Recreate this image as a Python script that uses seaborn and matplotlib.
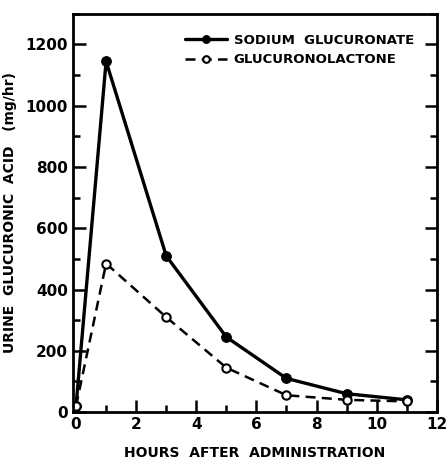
import matplotlib
matplotlib.use("Agg")
import matplotlib.pyplot as plt
from matplotlib.ticker import MultipleLocator
import seaborn as sns
import pandas as pd

hours = [0, 1, 3, 5, 7, 9, 11]
sodium = [20, 1145, 510, 245, 110, 60, 40]
lactone = [20, 485, 310, 145, 55, 40, 35]

sns.set_style("ticks", rc={"text.color": "black", "axes.labelcolor": "black",
                           "xtick.color": "black", "ytick.color": "black",
                           "axes.edgecolor": "black"})
plt.rcParams['font.family'] = ['DejaVu Sans']
plt.rcParams['font.weight'] = 'bold'

fig = plt.figure(figsize=(4.48, 4.62), dpi=100)
ax = fig.add_axes([0.163, 0.108, 0.812, 0.862])

df = pd.DataFrame({"hours": hours, "sodium": sodium, "lactone": lactone})
sns.lineplot(data=df, x="hours", y="sodium", ax=ax, color="black", lw=2.4,
             marker="o", markersize=7, markerfacecolor="black", markeredgecolor="black",
             label="SODIUM  GLUCURONATE")
sns.lineplot(data=df, x="hours", y="lactone", ax=ax, color="black", lw=1.8,
             linestyle=(0, (4, 2.5)), marker="o", markersize=6, markerfacecolor="white",
             markeredgecolor="black", markeredgewidth=1.5, label="GLUCURONOLACTONE")

ax.set_xlim(-0.1, 12)
ax.set_ylim(0, 1300)
ax.xaxis.set_major_locator(MultipleLocator(2))
ax.xaxis.set_minor_locator(MultipleLocator(1))
ax.yaxis.set_minor_locator(MultipleLocator(100))
ax.set_yticks([0, 200, 400, 600, 800, 1000, 1200])
ax.tick_params(which="both", direction="in", right=True, width=1.8, labelsize=11,
               colors="black")
ax.tick_params(which="major", length=9)
ax.tick_params(which="minor", length=5)
for s in ax.spines.values():
    s.set_linewidth(2)
    s.set_color("black")

ax.set_xlabel("HOURS  AFTER  ADMINISTRATION", fontsize=10, fontweight="bold", labelpad=10)
ax.set_ylabel("URINE  GLUCURONIC  ACID   (mg/hr)", fontsize=10, fontweight="bold", labelpad=6)
leg = ax.legend(loc="upper right", frameon=False, fontsize=9.5, handlelength=3.2,
                bbox_to_anchor=(0.97, 0.98), handletextpad=0.5, labelspacing=0.5,
                markerscale=0.8)
for t in leg.get_texts():
    t.set_color("black")

fig.savefig("out.png", dpi=100)
